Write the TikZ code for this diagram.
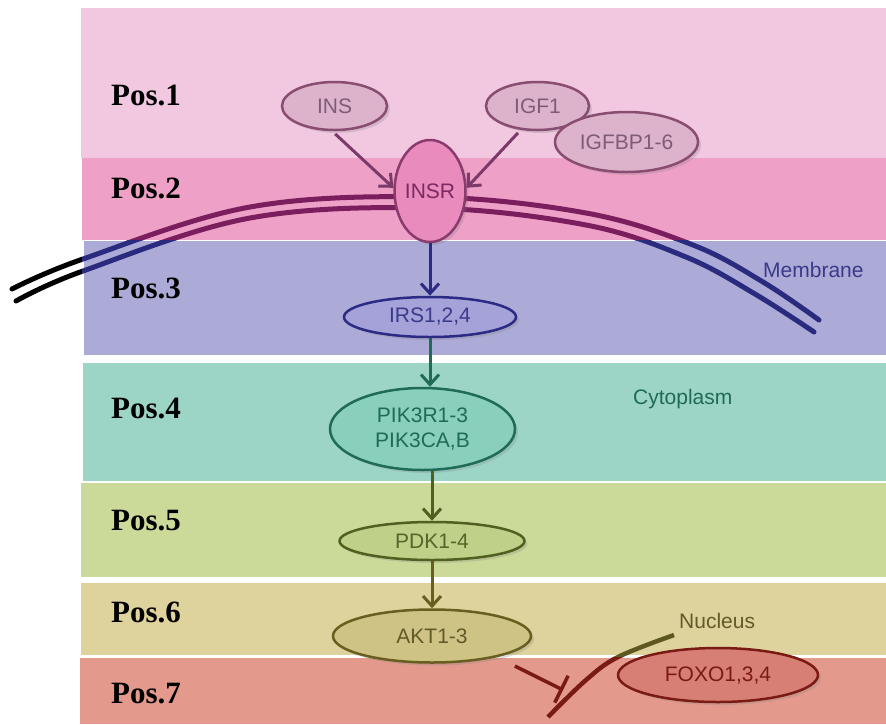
\documentclass[tikz,border=0pt]{standalone}
\usepackage{fontspec}
\setmainfont{Liberation Sans}
\newfontfamily\posfont{Liberation Serif}
\usetikzlibrary{shapes.geometric,arrows.meta,shadows}
\definecolor{bandA}{HTML}{F1C8DF}
\definecolor{bandB}{HTML}{EEA0C6}
\definecolor{bandC}{HTML}{ACAAD6}
\definecolor{bandD}{HTML}{9CD5C6}
\definecolor{bandE}{HTML}{CBDA98}
\definecolor{bandF}{HTML}{DFD39D}
\definecolor{bandG}{HTML}{E39A8C}
\definecolor{ligF}{HTML}{DDB3CB}
\definecolor{ligD}{HTML}{8A4D72}
\definecolor{ligT}{HTML}{7E5C78}
\definecolor{recF}{HTML}{E98BBD}
\definecolor{recD}{HTML}{8B3A6E}
\definecolor{recT}{HTML}{7A2A62}
\definecolor{irsF}{HTML}{A4A2D8}
\definecolor{irsD}{HTML}{2B2B85}
\definecolor{irsT}{HTML}{3A3A8A}
\definecolor{pikF}{HTML}{8ACFBC}
\definecolor{pikD}{HTML}{1F6B58}
\definecolor{pdkF}{HTML}{BFD088}
\definecolor{pdkD}{HTML}{4F6020}
\definecolor{pdkT}{HTML}{56662A}
\definecolor{aktF}{HTML}{CEC385}
\definecolor{aktD}{HTML}{675E20}
\definecolor{aktT}{HTML}{625A28}
\definecolor{foxF}{HTML}{D77F74}
\definecolor{foxD}{HTML}{7A1A15}
\definecolor{memP}{HTML}{7A1E5E}
\definecolor{memN}{HTML}{2A2A7E}
\definecolor{arrP}{HTML}{7C3A6B}
\definecolor{nucO}{HTML}{5E5820}
\begin{document}
\begin{tikzpicture}[x=1pt,y=-1pt,
  gene/.style={ellipse, draw, line width=2.5pt, inner sep=0pt,
    font=\fontsize{21}{25}\selectfont, align=center,
    drop shadow={opacity=0.25, shadow xshift=3pt, shadow yshift=-3pt}},
  poslab/.style={anchor=base west, inner sep=0pt, font=\posfont\bfseries\fontsize{31}{31}\selectfont},
  region/.style={anchor=base west, inner sep=0pt, font=\fontsize{21}{21}\selectfont},
  arr/.style={line width=3pt, -{Straight Barb[length=10pt,width=18pt]}},
  inhib/.style={line width=3.5pt, -{Bar[width=30pt]}},
  memline/.style={line width=5pt, line cap=round}
]
\useasboundingbox (0,0) rectangle (886,724);
% bands
\fill[bandA] (81,8) rectangle (886,158);
\fill[bandB] (82,158) rectangle (886,240);
\fill[bandC] (84,241) rectangle (886,355);
\fill[bandD] (83,363) rectangle (886,481);
\fill[bandE] (81,483) rectangle (886,577);
\fill[bandF] (81,583) rectangle (886,655);
\fill[bandG] (80,658) rectangle (886,724);
% position labels
\node[poslab] (p1) at (111,105) {Pos.1};
\node[poslab] (p2) at (111,198) {Pos.2};
\node[poslab] (p3) at (111,298) {Pos.3};
\node[poslab] (p4) at (111,418) {Pos.4};
\node[poslab] (p5) at (111,530) {Pos.5};
\node[poslab] (p6) at (111,622) {Pos.6};
\node[poslab] (p7) at (111,703) {Pos.7};
% membrane
\def\memU{plot[smooth, tension=0.6] coordinates {(12,289) (83,259) (250,207) (429,197) (586,213) (693,245) (763,282) (819,320)}}
\def\memL{plot[smooth, tension=0.6] coordinates {(16,301) (83,271) (250,218) (429,208) (586,225) (686,257) (755,294) (814,332)}}
\begin{scope}
  \clip (-10,0) rectangle (82,724);
  \draw[memline, black] \memU;
  \draw[memline, black] \memL;
\end{scope}
\begin{scope}
  \clip (82,0) rectangle (900,240.5);
  \draw[memline, memP] \memU;
  \draw[memline, memP] \memL;
\end{scope}
\begin{scope}
  \clip (82,240.5) rectangle (900,724);
  \draw[memline, memN] \memU;
  \draw[memline, memN] \memL;
\end{scope}
% nucleus envelope
\def\nuc{plot[smooth, tension=0.6] coordinates {(548,717) (586,680) (618,657) (674,635)}}
\begin{scope}
  \clip (0,0) rectangle (900,657);
  \draw[line width=4.5pt, nucO] \nuc;
\end{scope}
\begin{scope}
  \clip (0,657) rectangle (900,730);
  \draw[line width=4.5pt, foxD] \nuc;
\end{scope}
% region labels
\node[region, text=irsT] (mem) at (763,277) {Membrane};
\node[region, text=pikD] (cyt) at (633,404) {Cytoplasm};
\node[region, text=aktT] (nucl) at (679,628) {Nucleus};
% genes
\node[gene, minimum width=105pt, minimum height=48pt, fill=ligF, draw=ligD, text=ligT] (INS) at (334.5,106) {INS};
\node[gene, minimum width=103pt, minimum height=48pt, fill=ligF, draw=ligD, text=ligT] (IGF1) at (537.5,106) {IGF1};
\node[gene, minimum width=143pt, minimum height=60pt, fill=ligF, draw=ligD, text=ligT] (IGFBP) at (626.5,142) {IGFBP1-6};
\node[gene, minimum width=68pt, minimum height=102pt, fill=recF, draw=recD, text=recT] (INSR) at (430,191) {INSR};
\node[gene, minimum width=172pt, minimum height=40pt, fill=irsF, draw=irsD, text=irsT] (IRS) at (430,317) {IRS1,2,4};
\node[gene, minimum width=185pt, minimum height=82pt, fill=pikF, draw=pikD, text=pikD] (PIK) at (422.5,429) {PIK3R1-3\\PIK3CA,B};
\node[gene, minimum width=185pt, minimum height=38pt, fill=pdkF, draw=pdkD, text=pdkT] (PDK) at (432,541) {PDK1-4};
\node[gene, minimum width=198pt, minimum height=53pt, fill=aktF, draw=aktD, text=aktT] (AKT) at (432,636) {AKT1-3};
\node[gene, minimum width=200pt, minimum height=54pt, fill=foxF, draw=foxD, text=foxD] (FOXO) at (718,675) {FOXO1,3,4};
% connectors
\draw[arr, arrP, shorten <=4pt] (INS.265) -- (INSR.175);
\draw[arr, arrP, shorten <=4pt] (IGF1.235) -- (INSR.5);
\draw[arr, irsD] (INSR.south) -- (IRS.north);
\draw[arr, pikD] (IRS.south) -- (IRS.south |- PIK.north);
\draw[arr, pdkD] (PDK.north |- PIK.south) -- (PDK.north);
\draw[arr, aktD] (PDK.south) -- (AKT.north);
\coordinate (inh) at (563,690);
\draw[inhib, foxD, shorten <=20pt] (AKT.-18) -- (inh);
\end{tikzpicture}
\end{document}
